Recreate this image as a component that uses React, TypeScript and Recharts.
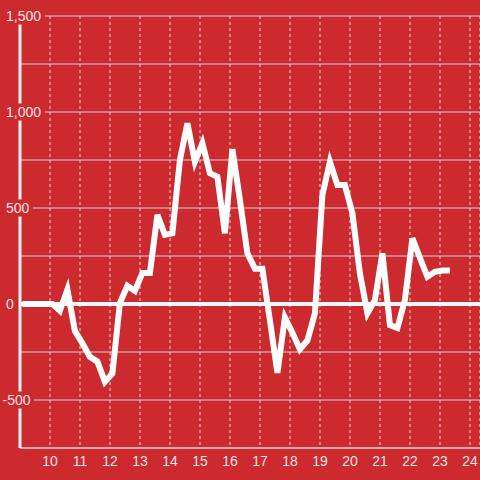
import React from 'react';
import { LineChart, Line, XAxis, YAxis, CartesianGrid, ReferenceLine } from 'recharts';

const hours = [
  9.08, 9.33, 9.58, 9.83, 10.08, 10.33, 10.58, 10.83, 11.08, 11.33, 11.58, 11.83,
  12.08, 12.33, 12.58, 12.83, 13.08, 13.33, 13.58, 13.83, 14.08, 14.33, 14.58, 14.83,
  15.08, 15.33, 15.58, 15.83, 16.08, 16.33, 16.58, 16.83, 17.08, 17.33, 17.58, 17.83,
  18.08, 18.33, 18.58, 18.83, 19.08, 19.33, 19.58, 19.83, 20.08, 20.33, 20.58, 20.83,
  21.08, 21.33, 21.58, 21.83, 22.08, 22.33, 22.58, 22.83, 23.08, 23.33,
];

const values = [
  0, 0, 0, 0, 0, -35, 75, -140, -205, -275, -300, -405,
  -362, 5, 95, 68, 162, 162, 464, 360, 368, 750, 941, 741,
  837, 681, 663, 368, 806, 542, 264, 184, 184, -85, -358, -70,
  -150, -236, -190, -49, 568, 741, 620, 620, 472, 160, -49, 21,
  264, -110, -125, 21, 342, 240, 142, 168, 174, 174,
];

const xTicks = [10, 11, 12, 13, 14, 15, 16, 17, 18, 19, 20, 21, 22, 23, 24];
const yTicks = [-750, -500, -250, 0, 250, 500, 750, 1000, 1250, 1500];
const yLabelTicks = [-500, 0, 500, 1000, 1500];

const data = hours.map((h, i) => ({ h, v: values[i] }));

const BG = '#CC2A2F';
const TEXT = '#F6E2E2';
const FONT = '"Liberation Sans", Arial, sans-serif';

const YTick = (props: any) => {
  const { y, payload } = props;
  const val = payload.value as number;
  if (!yLabelTicks.includes(val)) return null;
  const label = val.toLocaleString('en-US');
  const digits = label.replace(/[^0-9]/g, '').length;
  const commas = (label.match(/,/g) || []).length;
  const neg = val < 0;
  const w = digits * 8 + commas * 4;
  const start = neg ? 2.5 : 6;
  const textW = w + (neg ? 4.5 : 0);
  return (
    <g>
      <rect x={start - 1} y={y - 8.5} width={textW + 4} height={17} fill={BG} />
      <text x={start} y={y} dy="0.36em" fill={TEXT} fontSize={14} fontFamily={FONT} textAnchor="start">
        {label}
      </text>
    </g>
  );
};

const XTick = (props: any) => {
  const { x, y, payload } = props;
  return (
    <text x={x} y={y} dy={18} fill={TEXT} fontSize={14} fontFamily={FONT} textAnchor="middle">
      {payload.value}
    </text>
  );
};

export default function App() {
  return (
    <div style={{ position: 'absolute', left: 0, top: 0, width: 480, height: 480, background: BG }}>
      <LineChart width={480} height={480} data={data} margin={{ top: 16, right: 0, bottom: 2, left: 0 }}>
        <CartesianGrid horizontal={true} vertical={false} stroke="#D6D0D0" strokeWidth={1} />
        <CartesianGrid horizontal={false} vertical={true} stroke="#E0D6D6" strokeDasharray="3 3" />
        <XAxis
          dataKey="h"
          type="number"
          domain={[9, 24.333]}
          ticks={xTicks}
          allowDataOverflow
          height={30}
          tickLine={false}
          tickSize={0}
          tickMargin={0}
          axisLine={{ stroke: '#D6D0D0', strokeWidth: 1 }}
          tick={<XTick />}
          interval={0}
        />
        <YAxis
          type="number"
          domain={[-750, 1500]}
          ticks={yTicks}
          width={20}
          tickLine={false}
          tickSize={0}
          interval={0}
          axisLine={{ stroke: '#F2F2F2', strokeWidth: 3 }}
          tick={<YTick />}
        />
        <ReferenceLine y={0} stroke="#F8F8F8" strokeWidth={4} />
        <Line
          type="linear"
          dataKey="v"
          stroke="#FFFFFF"
          strokeWidth={6}
          dot={false}
          activeDot={false}
          isAnimationActive={false}
        />
      </LineChart>
    </div>
  );
}
